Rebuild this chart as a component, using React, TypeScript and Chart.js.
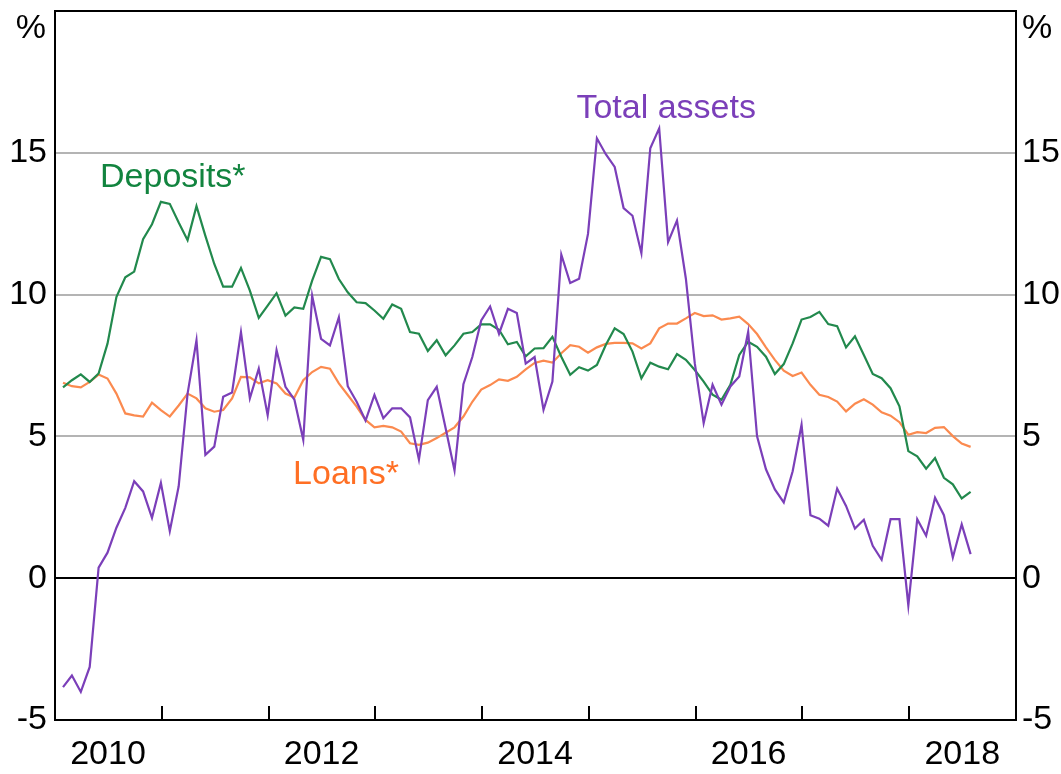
import React, { useEffect, useRef } from 'react';
import { Chart, registerables } from 'chart.js';

Chart.register(...registerables);

const START_YEAR = 2010;
const xYears = [2010, 2011, 2012, 2013, 2014, 2015, 2016, 2017, 2018, 2019];
const yTicks = [-5, 0, 5, 10, 15, 20];

const totalAssets = [
  -3.84, -3.43, -4.01, -3.13, 0.37, 0.9, 1.78, 2.48, 3.42, 3.06, 2.13, 3.36,
  1.66, 3.24, 6.51, 8.39, 4.35, 4.64, 6.4, 6.55, 8.68, 6.34, 7.39, 5.75,
  8.04, 6.75, 6.3, 4.88, 9.96, 8.44, 8.21, 9.2, 6.77, 6.22, 5.56, 6.46,
  5.64, 5.99, 5.99, 5.67, 4.18, 6.28, 6.75, 5.29, 3.8, 6.84, 7.8, 9.09,
  9.58, 8.62, 9.5, 9.35, 7.57, 7.8, 5.94, 6.93, 11.41, 10.41, 10.56, 12.14,
  15.51, 14.95, 14.5, 13.05, 12.78, 11.46, 15.16, 15.86, 11.85, 12.61, 10.56, 7.58,
  5.47, 6.82, 6.12, 6.76, 7.11, 8.69, 5.0, 3.84, 3.13, 2.67, 3.77, 5.41,
  2.22, 2.1, 1.85, 3.16, 2.55, 1.75, 2.06, 1.14, 0.65, 2.08, 2.08, -0.96,
  2.08, 1.5, 2.84, 2.22, 0.73, 1.9, 0.85,
];

const deposits = [
  6.73, 6.98, 7.19, 6.92, 7.22, 8.27, 9.91, 10.61, 10.81, 11.95, 12.48, 13.27,
  13.2, 12.54, 11.92, 13.12, 12.07, 11.08, 10.28, 10.28, 10.94, 10.14, 9.18, 9.61,
  10.05, 9.26, 9.55, 9.5, 10.49, 11.33, 11.25, 10.55, 10.08, 9.73, 9.7, 9.44,
  9.15, 9.65, 9.5, 8.68, 8.62, 8.01, 8.39, 7.86, 8.21, 8.62, 8.68, 8.95,
  8.95, 8.76, 8.25, 8.33, 7.82, 8.1, 8.11, 8.51, 7.81, 7.17, 7.44, 7.32,
  7.52, 8.22, 8.81, 8.61, 7.99, 7.05, 7.6, 7.46, 7.37, 7.9, 7.7, 7.34,
  6.93, 6.47, 6.29, 6.82, 7.87, 8.34, 8.16, 7.81, 7.2, 7.55, 8.28, 9.12,
  9.21, 9.39, 8.96, 8.89, 8.14, 8.53, 7.87, 7.2, 7.05, 6.7, 6.06, 4.48,
  4.3, 3.86, 4.24, 3.54, 3.31, 2.81, 3.04,
];

const loans = [
  6.89, 6.77, 6.73, 6.92, 7.18, 7.04, 6.51, 5.81, 5.74, 5.7, 6.19, 5.93,
  5.7, 6.09, 6.51, 6.34, 5.99, 5.87, 5.93, 6.34, 7.1, 7.08, 6.87, 6.98,
  6.87, 6.51, 6.37, 6.98, 7.27, 7.45, 7.39, 6.87, 6.46, 6.05, 5.58, 5.32,
  5.37, 5.32, 5.17, 4.76, 4.7, 4.78, 4.94, 5.13, 5.32, 5.7, 6.22, 6.65,
  6.81, 7.01, 6.96, 7.1, 7.36, 7.59, 7.67, 7.6, 7.93, 8.22, 8.16, 7.95,
  8.14, 8.26, 8.3, 8.3, 8.28, 8.1, 8.28, 8.81, 8.98, 8.98, 9.16, 9.35,
  9.24, 9.27, 9.12, 9.16, 9.22, 8.96, 8.61, 8.14, 7.7, 7.32, 7.13, 7.25,
  6.82, 6.47, 6.39, 6.23, 5.88, 6.15, 6.31, 6.12, 5.85, 5.73, 5.5, 5.06,
  5.15, 5.12, 5.3, 5.33, 5.01, 4.75, 4.63,
];

const PURPLE = '#7b3fb9';
const GREEN = '#22894d';
const ORANGE = '#fb8a4f';
const GREEN_TEXT = '#12843f';
const ORANGE_TEXT = '#ff6f24';
const FONT = "'Liberation Sans', Arial, sans-serif";
const FONT_SIZE = 34;

const seriesLabels = [
  { text: 'Total assets', x: 2014.883, y: 16.23, color: PURPLE },
  { text: 'Deposits*', x: 2010.422, y: 13.79, color: GREEN_TEXT },
  { text: 'Loans*', x: 2012.23, y: 3.31, color: ORANGE_TEXT },
];

const toPoints = (vals: number[]) =>
  vals.map((v, i) => ({ x: START_YEAR + (i + 0.9) / 12, y: v }));

const zeroPad = (s: any) => {
  s.paddingTop = 0;
  s.paddingBottom = 0;
  s.paddingLeft = 0;
  s.paddingRight = 0;
};

const decorPlugin = {
  id: 'decor',
  afterDraw(chart: any) {
    const { ctx, chartArea, scales } = chart;
    const xs = scales.x;
    const ys = scales.y;
    ctx.save();
    ctx.strokeStyle = '#000';
    ctx.lineWidth = 2;
    for (const yr of xYears) {
      if (yr === xYears[0] || yr === xYears[xYears.length - 1]) continue;
      const px = Math.round(xs.getPixelForValue(yr));
      ctx.beginPath();
      ctx.moveTo(px, chartArea.bottom);
      ctx.lineTo(px, chartArea.bottom - 14);
      ctx.stroke();
    }
    ctx.font = `${FONT_SIZE}px ${FONT}`;
    ctx.fillStyle = '#000';
    ctx.textBaseline = 'alphabetic';
    const unitY = ys.getPixelForValue(20) + 27;
    ctx.textAlign = 'right';
    ctx.fillText('%', chartArea.left - 9, unitY);
    ctx.textAlign = 'left';
    ctx.fillText('%', chartArea.right + 6, unitY);
    for (const l of seriesLabels) {
      ctx.fillStyle = l.color;
      ctx.textAlign = 'left';
      ctx.fillText(l.text, xs.getPixelForValue(l.x), ys.getPixelForValue(l.y));
    }
    ctx.restore();
  },
};

export default function App() {
  const ref = useRef<HTMLCanvasElement | null>(null);

  useEffect(() => {
    if (!ref.current) return;
    const tickFont = { size: FONT_SIZE, family: FONT };
    const chart = new Chart(ref.current, {
      type: 'line',
      data: {
        datasets: [
          { label: 'Total assets', data: toPoints(totalAssets), borderColor: PURPLE, borderWidth: 2.2, pointRadius: 0, tension: 0 },
          { label: 'Deposits*', data: toPoints(deposits), borderColor: GREEN, borderWidth: 2.2, pointRadius: 0, tension: 0 },
          { label: 'Loans*', data: toPoints(loans), borderColor: ORANGE, borderWidth: 2.2, pointRadius: 0, tension: 0 },
        ],
      },
      options: {
        animation: false,
        responsive: false,
        devicePixelRatio: 1,
        layout: { padding: { top: 11, left: 0, right: 0, bottom: 0 } },
        plugins: {
          legend: { display: false },
          tooltip: { enabled: false },
        },
        scales: {
          x: {
            type: 'linear',
            position: 'bottom',
            min: 2010,
            max: 2019,
            afterFit: (s: any) => { s.height = 54; zeroPad(s); },
            afterBuildTicks: (s: any) => { s.ticks = xYears.map((v) => ({ value: v })); },
            grid: { display: true, drawOnChartArea: false, drawTicks: false },
            border: { display: true, color: '#000', width: 2 },
            ticks: {
              autoSkip: false,
              maxRotation: 0,
              minRotation: 0,
              labelOffset: 53,
              padding: 14,
              color: '#000',
              font: tickFont,
              callback: (v: any) => (Number(v) % 2 === 0 && Number(v) < 2019 ? String(v) : ''),
            },
          },
          y: {
            type: 'linear',
            position: 'left',
            min: -5,
            max: 20,
            afterFit: (s: any) => { s.width = 55; zeroPad(s); },
            afterBuildTicks: (s: any) => { s.ticks = yTicks.map((v) => ({ value: v })); },
            grid: {
              drawTicks: false,
              color: (c: any) => (c.tick && (c.tick.value === 0 || c.tick.value === 20) ? '#000' : '#b4b4b4'),
              lineWidth: 2,
            },
            border: { display: true, color: '#000', width: 2 },
            ticks: {
              padding: 8,
              color: '#000',
              font: tickFont,
              callback: (v: any) => (Number(v) === 20 ? '' : String(v)),
            },
          },
          y2: {
            type: 'linear',
            position: 'right',
            min: -5,
            max: 20,
            afterFit: (s: any) => { s.width = 45; zeroPad(s); },
            afterBuildTicks: (s: any) => { s.ticks = yTicks.map((v) => ({ value: v })); },
            grid: { drawOnChartArea: false, drawTicks: false },
            border: { display: true, color: '#000', width: 2 },
            ticks: {
              padding: 6,
              color: '#000',
              font: tickFont,
              callback: (v: any) => (Number(v) === 20 ? '' : String(v)),
            },
          },
        },
      },
      plugins: [decorPlugin],
    } as any);
    return () => chart.destroy();
  }, []);

  return (
    <div style={{ position: 'absolute', left: 0, top: 0, width: 1061, height: 774, background: '#fff' }}>
      <canvas ref={ref} width={1061} height={774} style={{ display: 'block' }} />
    </div>
  );
}
